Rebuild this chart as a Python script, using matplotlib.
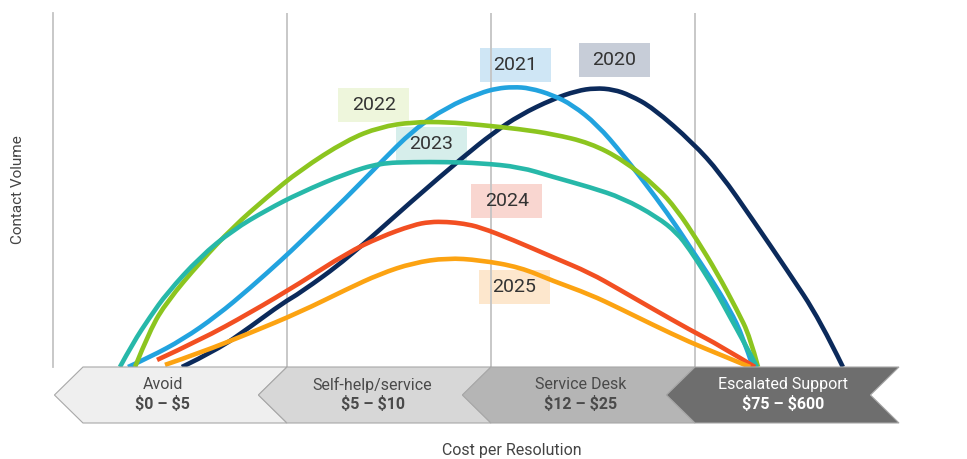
import matplotlib
matplotlib.use("Agg")
import matplotlib.pyplot as plt
from matplotlib.patches import Polygon, Rectangle, PathPatch
from matplotlib.path import Path

plt.rcParams['font.family'] = ['Roboto', 'DejaVu Sans']

# contact volume curves, x in cost-stage units (0 = start of "Avoid"), y = relative volume
x2020 = [0.485, 0.657, 0.819, 0.980, 1.064, 1.294, 1.618, 1.863, 2.010, 2.142, 2.304, 2.42, 2.510, 2.60, 2.681, 2.794, 2.990, 3.123, 3.284, 3.451, 3.613, 3.725]
y2020 = [0.0, 4.8, 11.3, 18.1, 20.9, 30.5, 47.2, 59.3, 66.1, 71.2, 75.7, 78.0, 78.8, 78.4, 76.8, 73.2, 63.3, 54.8, 41.5, 27.4, 13.3, 0.0]

x2021 = [0.221, 0.328, 0.490, 0.657, 0.819, 0.980, 1.064, 1.294, 1.456, 1.618, 1.784, 1.946, 2.03, 2.108, 2.19, 2.304, 2.40, 2.520, 2.647, 2.814, 2.912, 2.975, 3.074, 3.172, 3.235, 3.284]
y2021 = [0.0, 2.8, 7.8, 14.5, 22.3, 30.6, 35.2, 48.0, 57.6, 66.9, 73.4, 77.4, 78.7, 79.1, 78.8, 76.8, 74.0, 68.5, 60.0, 47.5, 39.5, 33.9, 25.4, 16.1, 8.5, 0.0]

x2022 = [0.255, 0.328, 0.412, 0.574, 0.735, 0.902, 1.064, 1.294, 1.456, 1.618, 1.784, 1.946, 2.142, 2.304, 2.485, 2.647, 2.814, 2.912, 3.010, 3.108, 3.206, 3.270, 3.309]
y2022 = [0.0, 10.5, 18.5, 29.6, 39.5, 48.0, 55.6, 64.1, 67.8, 69.2, 69.2, 68.4, 67.2, 65.8, 63.3, 58.5, 50.8, 44.4, 35.9, 26.6, 16.1, 8.5, 0.0]

x2023 = [0.181, 0.245, 0.328, 0.412, 0.574, 0.735, 0.902, 1.064, 1.294, 1.456, 1.618, 1.784, 1.946, 2.142, 2.304, 2.485, 2.647, 2.814, 2.912, 2.975, 3.039, 3.108, 3.172, 3.235, 3.304]
y2023 = [0.0, 6.8, 14.1, 20.9, 31.1, 38.7, 44.4, 49.2, 54.8, 57.6, 57.9, 57.9, 57.6, 56.5, 53.7, 50.8, 47.7, 42.4, 37.9, 33.1, 27.4, 20.9, 14.1, 7.6, 0.0]

x2024 = [0.363, 0.574, 0.819, 1.064, 1.294, 1.456, 1.618, 1.70, 1.784, 1.866, 1.946, 2.108, 2.304, 2.485, 2.632, 2.794, 2.975, 3.123, 3.294]
y2024 = [2.0, 7.6, 15.3, 23.7, 32.2, 36.7, 40.1, 41.0, 41.0, 40.5, 39.5, 35.9, 31.0, 26.6, 21.8, 16.4, 10.5, 6.0, 0.0]

x2025 = [0.402, 0.574, 0.819, 1.064, 1.294, 1.456, 1.618, 1.784, 1.946, 2.142, 2.304, 2.485, 2.632, 2.794, 2.975, 3.123, 3.27]
y2025 = [0.6, 4.0, 9.6, 15.5, 22.0, 26.3, 29.4, 30.8, 30.2, 28.2, 24.3, 20.5, 16.5, 11.9, 7.0, 3.5, 0.0]

years = ['2020', '2021', '2022', '2023', '2024', '2025']
series_x = [x2020, x2021, x2022, x2023, x2024, x2025]
series_y = [y2020, y2021, y2022, y2023, y2024, y2025]
line_colors = ['#0b2a5b', '#22a3df', '#8cc51f', '#27b8a9', '#f24f22', '#fca312']
box_colors = ['#c7cdd8', '#cfe6f5', '#eef6dc', '#d6eeeb', '#f9d6d0', '#fde7cd']
label_x = [2.603, 2.118, 1.426, 1.706, 2.078, 2.113]
label_y = [86.7, 85.3, 74.0, 63.0, 46.9, 22.6]

stages = ['Avoid', 'Self-help/service', 'Service Desk', 'Escalated Support']
costs = ['\\$0 \u2013 \\$5', '\\$5 \u2013 \\$10', '\\$12 \u2013 \\$25', '\\$75 \u2013 \\$600']
stage_fill = ['#efefef', '#d7d7d7', '#b5b5b5', '#6e6e6e']
stage_text = ['#4a4a4a', '#4a4a4a', '#4a4a4a', '#ffffff']


def smooth_path(xs, ys):
    # quadratic b-spline through the read points (points act as control points)
    pts = list(zip(xs, ys))
    verts = [pts[0]]
    codes = [Path.MOVETO]
    for i in range(1, len(pts) - 2):
        mid = ((pts[i][0] + pts[i + 1][0]) / 2, (pts[i][1] + pts[i + 1][1]) / 2)
        verts += [pts[i], mid]
        codes += [Path.CURVE3, Path.CURVE3]
    verts += [pts[-2], pts[-1]]
    codes += [Path.CURVE3, Path.CURVE3]
    return Path(verts, codes)


fig = plt.figure(figsize=(9.67, 4.59), dpi=100)
ax = fig.add_axes([53/967, 92/459, 846/967, 354/459])
ax.set_xlim(-0.147, 4.0)
ax.set_ylim(0, 100)
for s in ['top', 'right', 'bottom']:
    ax.spines[s].set_visible(False)
ax.spines['left'].set_color('#c4c4c4')
ax.spines['left'].set_linewidth(1.3)
ax.set_xticks([])
ax.set_yticks([])

for gx in [1, 2, 3]:
    ax.axvline(gx, color='#c4c4c4', lw=1.3, zorder=1)

# year tags behind the lines
bw, bh = 0.348, 9.6
for yr, lx, ly, bc in zip(years, label_x, label_y, box_colors):
    ax.add_patch(Rectangle((lx - bw/2, ly - bh/2), bw, bh, facecolor=bc,
                           edgecolor='none', zorder=0.5))
    ax.text(lx, ly, yr, ha='center', va='center', fontsize=14,
            color='#333333', zorder=5)

for xs, ys, c in zip(series_x, series_y, line_colors):
    ax.add_patch(PathPatch(smooth_path(xs, ys), facecolor='none', edgecolor=c,
                           lw=3.3, joinstyle='round', capstyle='butt', zorder=3))

# chevron band under the chart
band = fig.add_axes([53/967, 36/459, 846/967, 56/459])
band.set_xlim(-0.147, 4.0)
band.set_ylim(0, 1)
band.axis('off')
d = 0.14
text_x = [0.39, 1.42, 2.44, 3.43]
for i, (st, co, fc, tc) in enumerate(zip(stages, costs, stage_fill, stage_text)):
    x0, x1 = i, i + 1
    pts = [(x0 - d, 0.5), (x0, 1), (x1, 1), (x1 - d, 0.5), (x1, 0), (x0, 0)]
    band.add_patch(Polygon(pts, closed=True, facecolor=fc, edgecolor='#a8a8a8',
                           lw=0.8, clip_on=False))
    band.text(text_x[i], 0.68, st, ha='center', va='center', fontsize=11.5, color=tc)
    band.text(text_x[i], 0.34, co, ha='center', va='center', fontsize=11.5,
              fontweight='bold', color=tc)

fig.text(18/967, 1 - 190/459, 'Contact Volume', rotation=90, ha='center',
         va='center', fontsize=11, color='#444444')
fig.text(512/967, 1 - 451/459, 'Cost per Resolution', ha='center',
         va='center', fontsize=11.5, color='#444444')

fig.savefig('out.png', dpi=100)
